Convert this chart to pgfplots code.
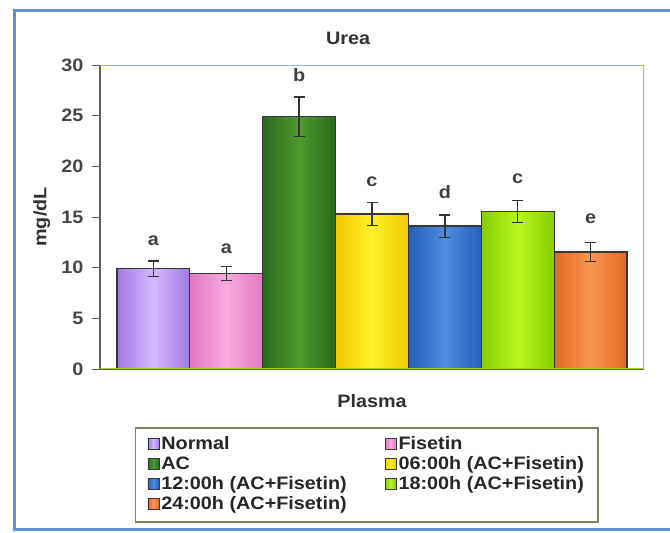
\documentclass[border=0pt]{standalone}
\usepackage{fontspec}
\setmainfont{Liberation Sans}[FakeStretch=1.1]
\usepackage{pgfplots}
\pgfplotsset{compat=1.18}
\usepackage{pgfplotstable}

\definecolor{frameblue}{RGB}{96,144,214}
\definecolor{plotgreen}{RGB}{160,210,40}
\definecolor{axisgray}{RGB}{95,95,95}
\definecolor{tickgray}{RGB}{70,70,70}
\definecolor{baredge}{RGB}{55,55,55}
\definecolor{legborder}{RGB}{120,135,90}

% bar shades: edge, centre
\definecolor{nrmE}{RGB}{160,120,225}\definecolor{nrmC}{RGB}{212,185,255}
\definecolor{fisE}{RGB}{225,120,195}\definecolor{fisC}{RGB}{248,170,222}
\definecolor{acE}{RGB}{40,105,30}\definecolor{acC}{RGB}{80,155,45}
\definecolor{sixE}{RGB}{240,200,0}\definecolor{sixC}{RGB}{255,242,40}
\definecolor{twlE}{RGB}{40,95,190}\definecolor{twlC}{RGB}{80,140,225}
\definecolor{eigE}{RGB}{135,205,0}\definecolor{eigC}{RGB}{185,245,30}
\definecolor{tfrE}{RGB}{225,105,35}\definecolor{tfrC}{RGB}{250,150,80}

% group means, SD and letters
\pgfplotstableread{
x  y     err   ly    lab
0  9.9   0.75  12.2  a
1  9.4   0.70  11.4  a
2  24.9  1.95  28.4  b
3  15.3  1.15  18.0  c
4  14.1  1.10  16.8  d
5  15.55 1.10  18.3  c
6  11.55 0.95  14.4  e
}\urea

\newcommand{\lbl}{\fontsize{18}{20}\selectfont\bfseries}

\begin{document}
\begin{tikzpicture}
\useasboundingbox (0pt,0pt) rectangle (670pt,533pt);
\fill[white] (0pt,0pt) rectangle (670pt,533pt);
\begin{scope}
  \clip (0pt,0pt) rectangle (670pt,533pt);
  \draw[frameblue, line width=3pt] (720pt,3pt) -- (14pt,3pt) -- (14pt,522pt) -- (720pt,522pt);
\end{scope}

\begin{axis}[
  at={(100pt,164pt)}, anchor=south west,
  scale only axis, width=544pt, height=304pt,
  xmin=-0.733, xmax=6.733, ymin=0, ymax=30,
  axis lines*=left,
  axis line style={axisgray, line width=1.3pt},
  xtick=\empty,
  ytick={0,5,...,30},
  tick align=outside, major tick length=8pt,
  tick style={axisgray, line width=0.8pt},
  /pgf/number format/assume math mode=true,
  yticklabel style={font=\lbl, text=tickgray, xshift=-5pt},
  title={Urea},
  title style={font=\lbl, text=tickgray!70!black, at={(axis description cs:0.456,1.069)}, anchor=center},
  xlabel={Plasma},
  xlabel style={font=\lbl, text=tickgray!70!black, at={(axis description cs:0.5,-0.105)}, anchor=center},
  ylabel={mg/dL},
  ylabel style={font=\lbl, text=tickgray!70!black, at={(axis description cs:-0.107,0.5)}, anchor=center},
  mybar/.style={ybar, bar width=1, bar shift=0, draw=baredge, line width=1.3pt},
  legend columns=2,
  legend cell align=left,
  legend style={
    at={(axis description cs:0.064,-0.191)}, anchor=north west,
    draw=legborder, line width=1.5pt,
    font=\fontsize{18}{20}\selectfont\bfseries,
    text=black!85,
    inner xsep=12pt, inner ysep=7pt,
    nodes={inner ysep=0.5pt, text height=14pt, text depth=5pt},
    /tikz/every even column/.append style={column sep=36pt},
  },
  legend image code/.code={\draw[#1, draw=baredge, line width=0.8pt] (0pt,-5pt) rectangle (11pt,6pt);},
]
\addplot[mybar, left color=nrmE, right color=nrmE, middle color=nrmC] table[x=x, y=y, skip coords between index={1}{7}] {\urea};
\addlegendentry{Normal}
\addplot[mybar, left color=fisE, right color=fisE, middle color=fisC] table[x=x, y=y, skip coords between index={0}{1}, skip coords between index={2}{7}] {\urea};
\addlegendentry{Fisetin}
\addplot[mybar, left color=acE, right color=acE, middle color=acC] table[x=x, y=y, skip coords between index={0}{2}, skip coords between index={3}{7}] {\urea};
\addlegendentry{AC}
\addplot[mybar, left color=sixE, right color=sixE, middle color=sixC] table[x=x, y=y, skip coords between index={0}{3}, skip coords between index={4}{7}] {\urea};
\addlegendentry{06:00h (AC+Fisetin)}
\addplot[mybar, left color=twlE, right color=twlE, middle color=twlC] table[x=x, y=y, skip coords between index={0}{4}, skip coords between index={5}{7}] {\urea};
\addlegendentry{12:00h (AC+Fisetin)}
\addplot[mybar, left color=eigE, right color=eigE, middle color=eigC] table[x=x, y=y, skip coords between index={0}{5}, skip coords between index={6}{7}] {\urea};
\addlegendentry{18:00h (AC+Fisetin)}
\addplot[mybar, left color=tfrE, right color=tfrE, middle color=tfrC] table[x=x, y=y, skip coords between index={0}{6}] {\urea};
\addlegendentry{24:00h (AC+Fisetin)}

% standard deviations
\addplot[forget plot, draw=none, mark=none,
  error bars/.cd, y dir=both, y explicit,
  error bar style={draw=black!80, line width=1.3pt},
  error mark options={rotate=90, mark size=5.5pt, draw=black!80, line width=1.3pt}]
  table[x=x, y=y, y error=err] {\urea};

% significance letters
\addplot[forget plot, only marks, mark=none, draw=none,
  nodes near coords, point meta=explicit symbolic,
  nodes near coords style={font=\fontsize{18}{20}\selectfont\bfseries, text=black!75, anchor=base, inner sep=0pt}]
  table[x=x, y=ly, meta=lab] {\urea};

% plot-area frame on the top and right
\draw[plotgreen, line width=2.2pt] (rel axis cs:0,1) -- (rel axis cs:1,1) -- (rel axis cs:1,0);
\draw[plotgreen, line width=1.2pt] (rel axis cs:0,0) -- (rel axis cs:1,0);
\end{axis}
\end{tikzpicture}
\end{document}
